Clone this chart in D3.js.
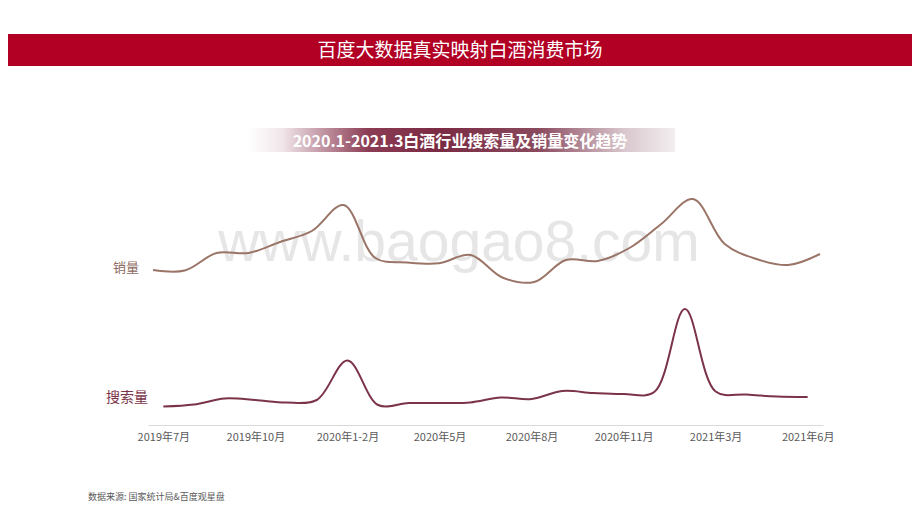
<!DOCTYPE html>
<html><head><meta charset="utf-8">
<script src="https://cdn.jsdelivr.net/npm/d3@7/dist/d3.min.js"></script>
<style>html,body{margin:0;padding:0;background:#fff;}svg{display:block;}</style>
</head><body>
<script>
const categories = ["2019年7月","2019年8月","2019年9月","2019年10月","2019年11月","2019年12月","2020年1-2月","2020年3月","2020年4月","2020年5月","2020年6月","2020年7月","2020年8月","2020年9月","2020年10月","2020年11月","2020年12月","2021年1-2月","2021年3月","2021年4月","2021年5月","2021年6月"];
const tickLabels = ["2019年7月","2019年10月","2020年1-2月","2020年5月","2020年8月","2020年11月","2021年3月","2021年6月"];
// relative index values
const salesValues  = [20, 19.5, 37, 37, 48, 59, 85, 32, 27.5, 26.7, 35, 12.5, 8, 30, 29, 42, 66, 91, 46, 31, 25, 36];
const searchValues = [13.5, 15.5, 21.5, 20, 17.5, 20, 59.5, 15, 17, 17, 17.5, 22.5, 21, 29, 27, 26, 28, 111, 28.5, 25.5, 23.5, 23];
const seriesNames = ["销量", "搜索量"];

const W = 920, H = 518;
const svg = d3.select("body").append("svg").attr("width", W).attr("height", H);
const cjk = "'Noto Sans CJK SC','Noto Sans',sans-serif";

// header bar
svg.append("rect").attr("x", 8).attr("y", 34).attr("width", 904).attr("height", 32).attr("fill", "#b10024");
svg.append("text").attr("x", 460).attr("y", 57).attr("text-anchor", "middle")
  .attr("fill", "#fff").attr("font-family", cjk).attr("font-size", 19)
  .text("百度大数据真实映射白酒消费市场");

// subtitle banner with gradient
const defs = svg.append("defs");
const g1 = defs.append("linearGradient").attr("id", "ban").attr("x1", "0").attr("x2", "1").attr("y1", "0").attr("y2", "0");
[[0, "#ffffff"], [0.08, "#f1e6ea"], [0.28, "#8c3d55"], [0.45, "#7a2b43"], [0.68, "#8a4a5e"], [0.88, "#d9c7ce"], [1, "#f3eef0"]]
  .forEach(([o, c]) => g1.append("stop").attr("offset", o).attr("stop-color", c));
svg.append("rect").attr("x", 248).attr("y", 128).attr("width", 427).attr("height", 24).attr("fill", "url(#ban)");
svg.append("text").attr("x", 460).attr("y", 146.5).attr("text-anchor", "middle")
  .attr("fill", "#fff").attr("font-family", cjk).attr("font-weight", "bold").attr("font-size", 16)
  .text("2020.1-2021.3白酒行业搜索量及销量变化趋势");

// watermark
svg.append("text").attr("x", 459).attr("y", 261).attr("text-anchor", "middle")
  .attr("fill", "#e6e6e6").attr("font-family", "'Liberation Sans',Arial,sans-serif").attr("font-size", 57)
  .text("www.baogao8.com");

// scales
const x = d3.scalePoint().domain(categories).range([148, 823]).padding(0.5);
const xs = d3.scalePoint().domain(categories).range([153, 820]);
const ySales = d3.scaleLinear().domain([0, 100]).range([290, 190]);
const ySearch = d3.scaleLinear().domain([0, 120]).range([420, 300]);

// axis
const axis = d3.axisBottom(x).tickValues(tickLabels).tickSize(0).tickPadding(8);
const ga = svg.append("g").attr("transform", "translate(0,425)").call(axis);
ga.select(".domain").attr("stroke", "#d9d9d9").attr("stroke-width", 1);
ga.selectAll("text").attr("fill", "#595959").attr("font-family", cjk).attr("font-size", 11);

// lines
const curve = d3.curveCatmullRom.alpha(0.5);
svg.append("path").datum(salesValues)
  .attr("d", d3.line().x((d, i) => xs(categories[i])).y(d => ySales(d)).curve(curve))
  .attr("fill", "none").attr("stroke", "#9a7467").attr("stroke-width", 2);
svg.append("path").datum(searchValues)
  .attr("d", d3.line().x((d, i) => x(categories[i])).y(d => ySearch(d)).curve(curve))
  .attr("fill", "none").attr("stroke", "#7b3348").attr("stroke-width", 2);

// series labels
svg.append("text").attr("x", 126).attr("y", 272).attr("text-anchor", "middle")
  .attr("fill", "#8c6a60").attr("font-family", cjk).attr("font-size", 13).text(seriesNames[0]);
svg.append("text").attr("x", 127).attr("y", 402).attr("text-anchor", "middle")
  .attr("fill", "#7b3348").attr("font-family", cjk).attr("font-size", 14).text(seriesNames[1]);

// source
svg.append("text").attr("x", 88).attr("y", 500)
  .attr("fill", "#595959").attr("font-family", cjk).attr("font-size", 9)
  .text("数据来源: 国家统计局&百度观星盘");
</script>
</body></html>
